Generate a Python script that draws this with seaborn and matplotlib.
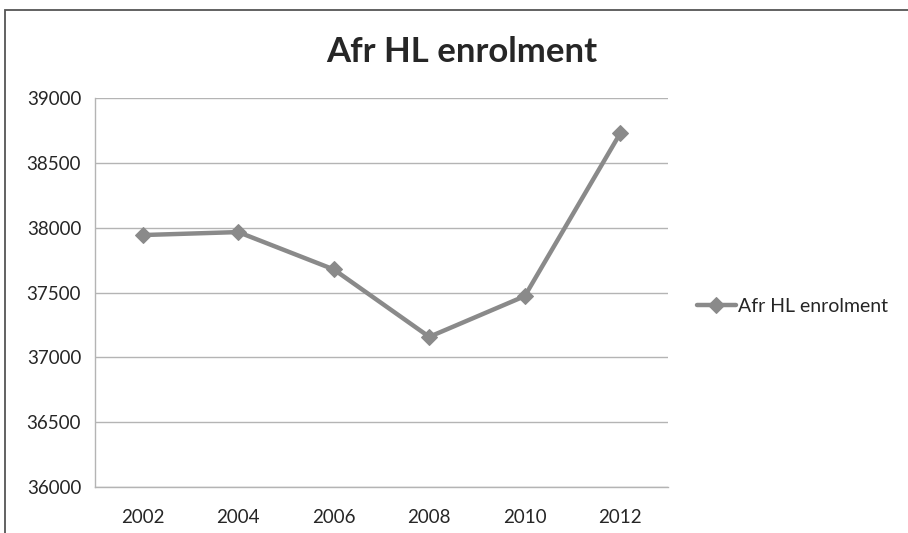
import numpy as np
import pandas as pd
import seaborn as sns
import matplotlib
matplotlib.use("Agg")
import matplotlib.pyplot as plt
from matplotlib.patches import Rectangle

years = ["2002", "2004", "2006", "2008", "2010", "2012"]
enrolment = [37943, 37966, 37678, 37158, 37472, 38728]
series_name = "Afr HL enrolment"

df = pd.DataFrame({"year": years, "enrolment": enrolment})

sns.set_style("white")
plt.rcParams["font.family"] = ["Lato", "DejaVu Sans"]

fig = plt.figure(figsize=(9.08, 5.33), dpi=100)
ax = fig.add_axes([95 / 908, 1 - 487 / 533, 573 / 908, 389 / 533])

grey = "#8a8a8a"
sns.lineplot(data=df, x="year", y="enrolment", ax=ax, color=grey,
             linewidth=3.2, marker="D", markersize=8, markeredgecolor=grey,
             label=series_name, sort=False)

ax.set_xlim(-0.5, len(years) - 0.5)
ax.set_ylim(36000, 39000)
ax.set_yticks(np.arange(36000, 39001, 500))
ax.yaxis.grid(True, color="#b4b4b4", linewidth=1)
ax.set_axisbelow(True)
ax.set_xlabel("")
ax.set_ylabel("")

ax.set_xticks(np.arange(-0.5, len(years), 1.0), minor=True)
ax.tick_params(axis="x", which="major", length=0, pad=16, labelsize=13.5)
ax.tick_params(axis="x", which="minor", length=6, color="#b4b4b4", width=1,
               direction="out")
ax.tick_params(axis="y", length=5, color="#b4b4b4", labelsize=13.5, pad=5)

for s in ["top", "right"]:
    ax.spines[s].set_visible(False)
for s in ["left", "bottom"]:
    ax.spines[s].set_color("#b4b4b4")
    ax.spines[s].set_linewidth(1)

fig.text(462 / 908, 1 - 52 / 533, series_name, ha="center", va="center",
         fontsize=25, fontweight="bold")

leg = ax.legend(loc="center left", bbox_to_anchor=(1.03, 0.465), frameon=False,
                fontsize=14, handlelength=2.0, handletextpad=0.1,
                borderaxespad=0.2)

fig.patches.append(Rectangle((5 / 908, -0.1), 2, 1.1 - 10 / 533,
                             transform=fig.transFigure, fill=False,
                             edgecolor="#555555", linewidth=1.3))

fig.savefig("out.png", dpi=100)
